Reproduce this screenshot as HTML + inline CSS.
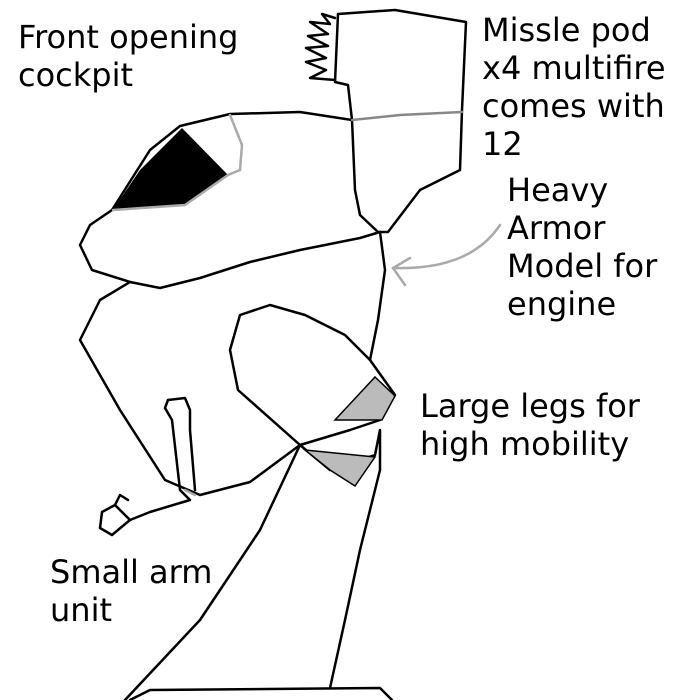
<!DOCTYPE html>
<html><head><meta charset="utf-8"><style>
html,body{margin:0;padding:0;background:#fff}
svg{display:block}
text{font-family:"DejaVu Sans","Liberation Sans",sans-serif;font-size:32px;fill:#000}
</style></head><body>
<svg width="700" height="700" viewBox="0 0 700 700" xmlns="http://www.w3.org/2000/svg">
<g fill="none" stroke="#000" stroke-width="2.5" stroke-linejoin="round" stroke-linecap="round">
<path d="M338,14 L395,10 L466,22 L462,110 L460,170 L420,190 L388,232 L378,232 L360,215 L355,190 L352,120 L348,85 L335,82 L338,14 Z"/>
<path d="M335,18 L322,14 L330,24 L310,22 L328,34 L308,36 L328,46 L306,48 L326,58 L306,62 L326,70 L310,78 L335,80"/>
<path d="M112,210 L150,150 L180,126 L230,114 L300,112 L352,120"/>
<path d="M112,210 L90,225 L80,245 L92,270 L130,282 L100,300 L80,340 L120,410 L165,480 L200,495 L250,482 L300,445"/>
<path d="M130,282 L160,288 L200,278 L250,262 L300,250 L360,238 L380,232 L385,270 L378,320 L370,360"/>
<path d="M300,445 L238,390 L230,350 L240,315 L270,305 L305,315 L345,335 L370,360 L395,395 L380,420 L350,430 L300,445"/>
<path d="M300,445 L260,530 L200,620 L125,700"/>
<path d="M300,445 L330,470 L375,455 L380,430 L380,470 L360,550 L345,620 L330,688"/>
<path d="M130,700 L150,690 L380,688 L392,700"/>
<path d="M168,400 L165,408 L172,420 L180,490 L190,500 L150,512 L130,520 L115,505 L102,512 L100,528 L112,535 L130,520"/>
<path d="M168,400 L185,398 L190,410 L190,430 L195,490"/>
<path d="M115,505 L120,495 L128,500"/>
</g>
<path d="M182,128 L140,170 L113,210 L185,205 L228,175 Z" fill="#000"/>
<g fill="none" stroke="#aaa" stroke-width="2.5" stroke-linecap="round">
<path d="M230,115 L242,145 L240,170 L228,175 L185,205 L113,210"/>
<path d="M352,120 L400,115 L462,112" stroke="#888"/>
<path d="M185,490 L195,495"/>
<path d="M500,225 Q470,270 395,268"/>
<path d="M410,258 L393,268 L405,285"/>
</g>
<path d="M375,377 L395,396 L382,420 L335,420 Z" fill="#bbb" stroke="#000" stroke-width="1.5"/>
<path d="M305,450 L375,457 L355,486 L330,470 Z" fill="#bbb" stroke="#000" stroke-width="1.5"/>
<text x="18" y="48">Front opening</text>
<text x="18" y="86">cockpit</text>
<text x="482" y="41">Missle pod</text>
<text x="482" y="79">x4 multifire</text>
<text x="482" y="117">comes with</text>
<text x="482" y="155">12</text>
<text x="507" y="201">Heavy</text>
<text x="507" y="239">Armor</text>
<text x="507" y="277">Model for</text>
<text x="507" y="315">engine</text>
<text x="420" y="417">Large legs for</text>
<text x="420" y="455">high mobility</text>
<text x="50" y="583">Small arm</text>
<text x="50" y="621">unit</text>
</svg>
</body></html>
